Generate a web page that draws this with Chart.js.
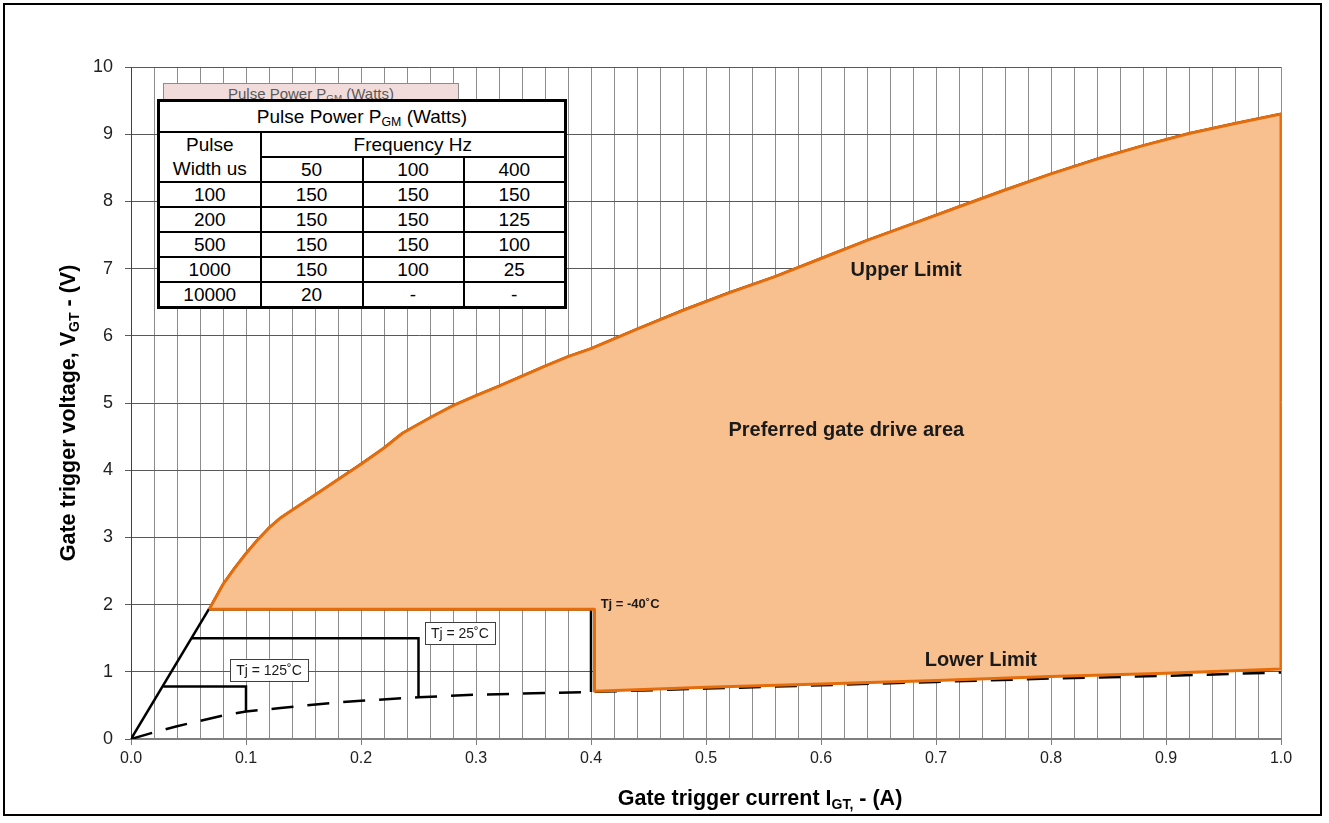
<!DOCTYPE html>
<html><head><meta charset="utf-8">
<script src="https://cdn.jsdelivr.net/npm/chart.js@4.4.1/dist/chart.umd.min.js"></script>
<style>
body{margin:0;background:#fff;}
#wrap{position:relative;width:1329px;height:823px;overflow:hidden;}
#c{position:absolute;left:0;top:0;}
#ghost{position:absolute;left:163px;top:83px;width:296px;height:24px;background:#f2dcdb;border:1px solid #8c8c8c;box-sizing:border-box;font:15px 'Liberation Sans',Arial,sans-serif;color:#595959;text-align:center;line-height:20px;}
#ghost sub,#tbl sub{font-size:65%;vertical-align:-0.25em;line-height:0;}
#tbl{position:absolute;left:157px;top:99px;border-collapse:collapse;border:3px solid #000;background:#fff;font:19px 'Liberation Sans',Arial,sans-serif;color:#000;table-layout:fixed;}
#tbl td{border:2px solid #000;text-align:center;padding:0;height:23px;line-height:22px;white-space:nowrap;}
#tbl tr.h td{height:29px;}
</style>
</head><body>
<div id="wrap">
<canvas id="c" width="1329" height="823"></canvas>
<div id="ghost">Pulse Power P<sub>GM</sub> (Watts)</div>
<table id="tbl"></table>
</div>
<script>
// ---- table data ----
const tableTitle = 'Pulse Power P<sub>GM</sub> (Watts)';
const pulseWidths = ['100', '200', '500', '1000', '10000'];
const freqLabels = ['50', '100', '400'];
const pgm50 = ['150', '150', '150', '150', '20'];
const pgm100 = ['150', '150', '150', '100', '-'];
const pgm400 = ['150', '125', '100', '25', '-'];

// ---- chart data ----
const upperI = [0.068, 0.08, 0.09, 0.10, 0.11, 0.12, 0.13, 0.138, 0.16, 0.18, 0.20, 0.22, 0.236, 0.26, 0.28, 0.30, 0.32, 0.34, 0.36, 0.38, 0.40, 0.44, 0.48, 0.52, 0.56, 0.60, 0.64, 0.68, 0.72, 0.76, 0.80, 0.84, 0.88, 0.92, 0.96, 1.00];
const upperV = [1.93, 2.30, 2.54, 2.76, 2.96, 3.14, 3.29, 3.38, 3.63, 3.86, 4.09, 4.33, 4.55, 4.78, 4.96, 5.11, 5.25, 5.40, 5.55, 5.69, 5.81, 6.10, 6.38, 6.64, 6.88, 7.15, 7.42, 7.67, 7.92, 8.17, 8.41, 8.63, 8.83, 9.01, 9.16, 9.30];
const lowerI = [0.403, 0.50, 0.60, 0.70, 0.80, 0.90, 1.00];
const lowerV = [0.71, 0.77, 0.82, 0.87, 0.93, 0.98, 1.04];
const dashI = [0, 0.02, 0.04, 0.06, 0.08, 0.10, 0.13, 0.17, 0.20, 0.25, 0.30, 0.35, 0.40, 0.50, 0.60, 0.70, 0.80, 0.90, 1.00];
const dashV = [0, 0.10, 0.19, 0.27, 0.35, 0.41, 0.46, 0.53, 0.57, 0.62, 0.66, 0.68, 0.70, 0.75, 0.80, 0.85, 0.90, 0.94, 0.99];
const originI = [0, 0.068];
const originV = [0, 1.94];
const tj125I = [0.028, 0.10, 0.10];
const tj125V = [0.78, 0.78, 0.41];
const tj25I = [0.053, 0.25, 0.25];
const tj25V = [1.50, 1.50, 0.62];
const tjm40I = [0.068, 0.40, 0.40];
const tjm40V = [1.93, 1.93, 0.70];
const xTickLabels = ['0.0', '0.1', '0.2', '0.3', '0.4', '0.5', '0.6', '0.7', '0.8', '0.9', '1.0'];
const yTickLabels = ['0', '1', '2', '3', '4', '5', '6', '7', '8', '9', '10'];

// annotations (data coordinates)
const notes = [
  {text: 'Upper Limit', x: 0.674, y: 6.99, font: 'bold 20px "Liberation Sans", Arial', box: false},
  {text: 'Preferred gate drive area', x: 0.622, y: 4.60, font: 'bold 20px "Liberation Sans", Arial', box: false},
  {text: 'Lower Limit', x: 0.739, y: 1.19, font: 'bold 20px "Liberation Sans", Arial', box: false},
  {text: 'Tj = -40\u02DAC', x: 0.434, y: 2.02, font: 'bold 13px "Liberation Sans", Arial', box: false},
  {text: 'Tj = 25\u02DAC', x: 0.286, y: 1.57, font: '14px "Liberation Sans", Arial', box: true},
  {text: 'Tj = 125\u02DAC', x: 0.120, y: 1.03, font: '14px "Liberation Sans", Arial', box: true}
];

// build table
(function () {
  const t = document.getElementById('tbl');
  let h = '<colgroup><col style="width:102px"><col style="width:102px"><col style="width:101px"><col style="width:102px"></colgroup>';
  h += '<tr class="h"><td colspan="4">' + tableTitle + '</td></tr>';
  h += '<tr><td rowspan="2" style="line-height:24px">Pulse<br>Width us</td><td colspan="3">Frequency Hz</td></tr>';
  h += '<tr>' + freqLabels.map(f => '<td>' + f + '</td>').join('') + '</tr>';
  pulseWidths.forEach((w, i) => {
    h += '<tr><td>' + w + '</td><td>' + pgm50[i] + '</td><td>' + pgm100[i] + '</td><td>' + pgm400[i] + '</td></tr>';
  });
  t.innerHTML = h;
})();

const pts = (xs, ys) => xs.map((x, i) => ({x: x, y: ys[i]}));
const areaPts = pts(upperI, upperV)
  .concat(pts(lowerI, lowerV).reverse())
  .concat([{x: lowerI[0], y: tjm40V[0]}, {x: upperI[0], y: upperV[0]}]);

const ORANGE = '#e46c0a';
const FILL = '#f9c08f';

const isMajor = v => Math.abs(v * 10 - Math.round(v * 10)) < 1e-6;

const decor = {
  id: 'decor',
  afterDatasetsDraw(chart) {
    const ctx = chart.ctx, xs = chart.scales.x, ys = chart.scales.y;
    ctx.save();
    notes.forEach(n => {
      const px = xs.getPixelForValue(n.x), py = ys.getPixelForValue(n.y);
      ctx.font = n.font;
      ctx.textAlign = 'center';
      ctx.textBaseline = 'middle';
      if (n.box) {
        const w = ctx.measureText(n.text).width + 12, hh = 22;
        ctx.fillStyle = '#fff';
        ctx.fillRect(px - w / 2, py - hh / 2, w, hh);
        ctx.strokeStyle = '#404040';
        ctx.lineWidth = 1;
        ctx.strokeRect(Math.round(px - w / 2) + 0.5, Math.round(py - hh / 2) + 0.5, Math.round(w), hh);
      }
      ctx.fillStyle = '#1a1a1a';
      ctx.fillText(n.text, px, py + 1);
    });
    ctx.restore();
  },
  afterDraw(chart) {
    const ctx = chart.ctx, a = chart.chartArea;
    ctx.save();
    // outer frame
    ctx.strokeStyle = '#000';
    ctx.lineWidth = 2;
    ctx.strokeRect(4, 4, 1317, 811);
    // axis titles with subscripts
    const drawParts = (parts, cx, cy) => {
      let total = 0;
      parts.forEach(p => { ctx.font = p.f; p.w = ctx.measureText(p.t).width; total += p.w; });
      let x = cx - total / 2;
      parts.forEach(p => { ctx.font = p.f; ctx.fillText(p.t, x, cy + p.dy); x += p.w; });
    };
    ctx.fillStyle = '#000';
    ctx.textAlign = 'left';
    ctx.textBaseline = 'alphabetic';
    const big = 'bold 21.5px "Liberation Sans", Arial';
    const sm = 'bold 14px "Liberation Sans", Arial';
    drawParts([
      {t: 'Gate trigger current I', f: big, dy: 0},
      {t: 'GT,', f: sm, dy: 4},
      {t: ' - (A)', f: big, dy: 0}
    ], 760, 805);
    ctx.translate(75, (a.top + a.bottom) / 2 + 10);
    ctx.rotate(-Math.PI / 2);
    drawParts([
      {t: 'Gate trigger voltage, V', f: big, dy: 0},
      {t: 'GT', f: sm, dy: 4},
      {t: ' - (V)', f: big, dy: 0}
    ], 0, 0);
    ctx.restore();
  }
};

new Chart(document.getElementById('c'), {
  type: 'scatter',
  data: {
    datasets: [
      {label: 'Tj=-40', data: pts(tjm40I, tjm40V), showLine: true, borderColor: '#000', borderWidth: 2.5, pointRadius: 0, order: 5},
      {label: 'Tj=25', data: pts(tj25I, tj25V), showLine: true, borderColor: '#000', borderWidth: 2.5, pointRadius: 0, order: 5},
      {label: 'Tj=125', data: pts(tj125I, tj125V), showLine: true, borderColor: '#000', borderWidth: 2.5, pointRadius: 0, order: 5},
      {label: 'origin', data: pts(originI, originV), showLine: true, borderColor: '#000', borderWidth: 2.5, pointRadius: 0, order: 5},
      {label: 'upper black', data: pts(upperI, upperV), showLine: true, borderColor: '#000', borderWidth: 2.5, pointRadius: 0, order: 5},
      {label: 'dashed', data: pts(dashI, dashV), showLine: true, borderColor: '#000', borderWidth: 2.5, borderDash: [22, 14], pointRadius: 0, order: 5},
      {label: 'area', data: areaPts, showLine: true, borderColor: ORANGE, backgroundColor: FILL, borderWidth: 3, fill: 'shape', pointRadius: 0, order: 1, borderJoinStyle: 'round'}
    ]
  },
  options: {
    responsive: false,
    animation: false,
    events: [],
    layout: {padding: {left: 0, top: 67, right: 48, bottom: 0}},
    plugins: {legend: {display: false}, tooltip: {enabled: false}},
    scales: {
      x: {
        type: 'linear', min: 0, max: 1,
        afterFit: s => { s.height = 84; },
        border: {color: '#7f7f7f', width: 2},
        grid: {
          color: '#8c8c8c', lineWidth: 1, tickLength: 6,
          tickColor: ctx => (ctx.tick && isMajor(ctx.tick.value)) ? '#7f7f7f' : 'rgba(0,0,0,0)'
        },
        ticks: {
          stepSize: 0.02, autoSkip: false, maxRotation: 0, padding: 4,
          color: '#222',
          font: {family: '"Liberation Sans Narrow", "Arial Narrow", "Liberation Sans"', size: 16},
          callback: v => isMajor(v) ? xTickLabels[Math.round(v * 10)] : ''
        }
      },
      y: {
        type: 'linear', min: 0, max: 10,
        afterFit: s => { s.width = 131; },
        border: {color: '#404040', width: 1},
        grid: {color: '#595959', lineWidth: 1, tickLength: 6, tickColor: '#595959'},
        ticks: {
          stepSize: 1, padding: 12, color: '#222',
          font: {family: '"Liberation Sans", Arial', size: 18},
          callback: v => yTickLabels[Math.round(v)]
        }
      }
    }
  },
  plugins: [decor]
});
</script>
</body></html>
